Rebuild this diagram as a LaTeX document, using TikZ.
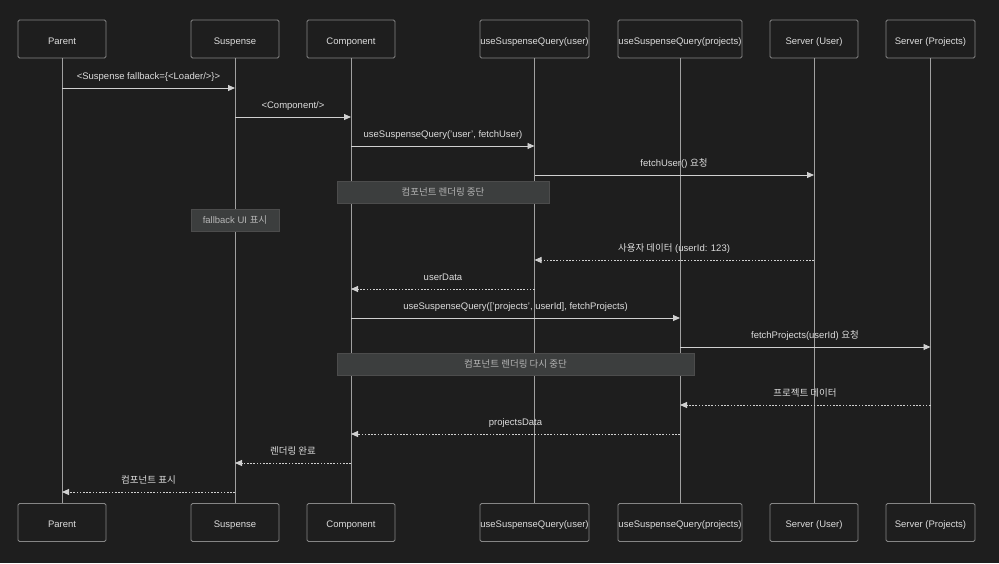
\documentclass[tikz,border=0pt]{standalone}
\usepackage{fontspec}
\setmainfont{Liberation Sans}
\newfontfamily\kr{Noto Sans CJK KR}
\usetikzlibrary{arrows.meta}
\definecolor{bg}{HTML}{1E1E1E}
\definecolor{boxline}{HTML}{858585}
\definecolor{life}{HTML}{A0A0A0}
\definecolor{arr}{HTML}{D0D0D0}
\definecolor{txt}{HTML}{DDDDDD}
\definecolor{notefill}{HTML}{3C3E3E}
\definecolor{noteline}{HTML}{4C4C4C}
\definecolor{notetxt}{HTML}{B5B5B5}
\tikzset{
  actor/.style={draw=boxline, fill=bg, rounded corners=1.5pt, line width=0.9pt,
    minimum height=38pt, text=txt, inner sep=0pt, text height=10pt, text depth=0pt,
    font=\fontsize{9.5}{11}\selectfont},
  lifeline/.style={draw=life, line width=1pt},
  call/.style={draw=arr, line width=0.9pt, -{Triangle[length=7pt,width=6pt]}},
  reply/.style={draw=arr, line width=0.9pt, dash pattern=on 1.6pt off 1.6pt, -{Triangle[length=7pt,width=6pt]}},
  lbl/.style={text=txt, inner sep=0pt, text height=10pt, text depth=0pt,
    font=\fontsize{9.5}{11}\selectfont},
  note/.style={draw=noteline, fill=notefill, line width=0.8pt, minimum height=22pt,
    inner sep=0pt, text=notetxt, font=\fontsize{9.5}{11}\selectfont}
}
\begin{document}
\begin{tikzpicture}[x=1pt,y=-1pt]
\fill[bg] (0,0) rectangle (999,563);
\useasboundingbox (0,0) rectangle (999,563);
% top actors
\node[actor, minimum width=88pt]  (p1t) at (62,39)  {Parent};
\node[actor, minimum width=88pt]  (p2t) at (235,39) {Suspense};
\node[actor, minimum width=88pt]  (p3t) at (351,39) {Component};
\node[actor, minimum width=109pt] (p4t) at (534.5,39) {useSuspenseQuery(user)};
\node[actor, minimum width=124pt] (p5t) at (680,39) {useSuspenseQuery(projects)};
\node[actor, minimum width=88pt]  (p6t) at (814,39) {Server (User)};
\node[actor, minimum width=89pt]  (p7t) at (930.5,39) {Server (Projects)};
% bottom actors
\node[actor, minimum width=88pt]  (p1b) at (62,522.5)  {Parent};
\node[actor, minimum width=88pt]  (p2b) at (235,522.5) {Suspense};
\node[actor, minimum width=88pt]  (p3b) at (351,522.5) {Component};
\node[actor, minimum width=109pt] (p4b) at (534.5,522.5) {useSuspenseQuery(user)};
\node[actor, minimum width=124pt] (p5b) at (680,522.5) {useSuspenseQuery(projects)};
\node[actor, minimum width=88pt]  (p6b) at (814,522.5) {Server (User)};
\node[actor, minimum width=89pt]  (p7b) at (930.5,522.5) {Server (Projects)};
% lifelines
\foreach \i in {1,...,7} {\draw[lifeline] (p\i t.south) -- (p\i b.north);}
% messages
\draw[call] (p1t |- 0,88) -- (p2t |- 0,88);
\node[lbl] (l1) at (148.5,74.5) {<Suspense fallback=\{<Loader/>\}>};
\draw[call] (p2t |- 0,117) -- (p3t |- 0,117);
\node[lbl] (l2) at (293,103.5) {<Component/>};
\draw[call] (p3t |- 0,146) -- (p4t |- 0,146);
\node[lbl] (l3) at (443,132.5) {useSuspenseQuery('user', fetchUser)};
\draw[call] (p4t |- 0,175) -- (p6t |- 0,175);
\node[lbl] (l4) at (674,161.5) {fetchUser() {\kr 요청}};
% notes
\node[note, minimum width=212pt] (n1) at (443,192) {\kr 컴포넌트 렌더링 중단};
\node[note, minimum width=88pt] (n2) at (235,220) {fallback UI {\kr 표시}};
% replies
\draw[reply] (p6t |- 0,260) -- (p4t |- 0,260);
\node[lbl] (l5) at (674,246.5) {{\kr 사용자 데이터} (userId: 123)};
\draw[reply] (p4t |- 0,289) -- (p3t |- 0,289);
\node[lbl] (l6) at (443,275.5) {userData};
\draw[call] (p3t |- 0,318) -- (p5t |- 0,318);
\node[lbl] (l7) at (515.5,304.5) {useSuspenseQuery(['projects', userId], fetchProjects)};
\draw[call] (p5t |- 0,347) -- (p7t |- 0,347);
\node[lbl] (l8) at (805,333.5) {fetchProjects(userId) {\kr 요청}};
\node[note, minimum width=357pt] (n3) at (515.5,364) {\kr 컴포넌트 렌더링 다시 중단};
\draw[reply] (p7t |- 0,405) -- (p5t |- 0,405);
\node[lbl] (l9) at (805,391.5) {\kr 프로젝트 데이터};
\draw[reply] (p5t |- 0,434) -- (p3t |- 0,434);
\node[lbl] (l10) at (515.5,420.5) {projectsData};
\draw[reply] (p3t |- 0,463) -- (p2t |- 0,463);
\node[lbl] (l11) at (293,449.5) {\kr 렌더링 완료};
\draw[reply] (p2t |- 0,492) -- (p1t |- 0,492);
\node[lbl] (l12) at (148.5,478.5) {\kr 컴포넌트 표시};
\end{tikzpicture}
\end{document}
